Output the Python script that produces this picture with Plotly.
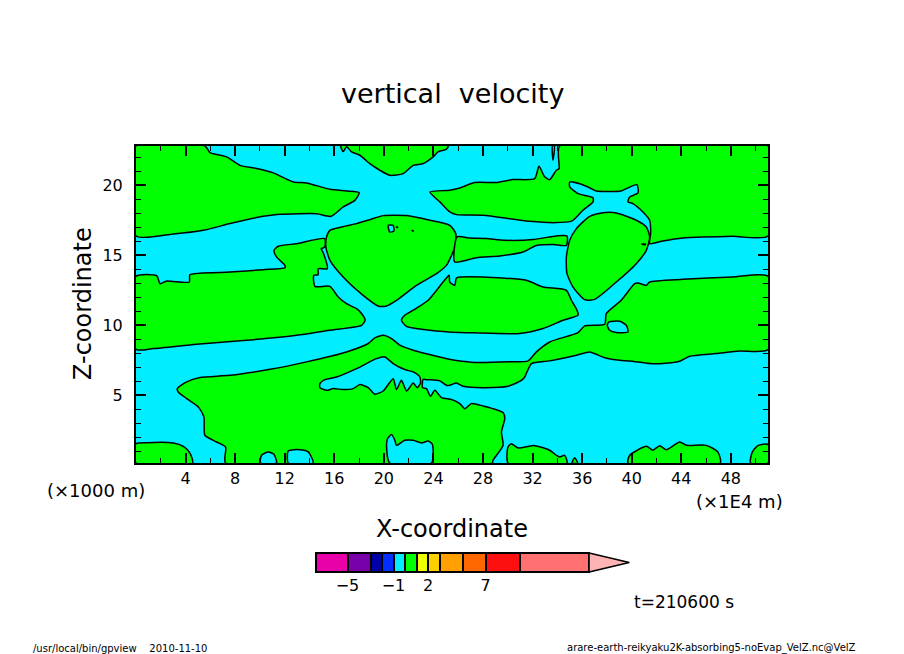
import plotly.graph_objects as graph_objects

W = 904
H = 654

x_range = [0, 51]
z_range = [0.17, 22.8]
x_ticks = [4, 8, 12, 16, 20, 24, 28, 32, 36, 40, 44, 48]
z_ticks = [5, 10, 15, 20]

# contour outlines, (x in 1E4 m, z in 1000 m)
top_left = [(0,22.8),(0,16.38),(3.01,16.52),(5.43,16.78),(7.58,17.26),(9.73,17.69),(11.61,17.92),(14.57,17.97),
    (15.73,17.78),(16.72,18.45),(17.66,18.92),(18.01,19.47),(16.99,19.59),(15.65,19.71),(13.76,20.16),(12.69,20.23),
    (11.08,20.88),(9.73,21.19),(8.39,21.42),(7.31,22.02),(5.97,22.33),(5.56,22.8)]
top_centre = [(16.53,22.8),(16.72,22.4),(17.0,22.75),(17.39,22.38),(18.06,22.14),(18.87,21.54),(19.68,21.07),(20.48,20.71),
    (21.56,20.83),(22.37,21.42),(23.17,21.54),(23.98,22.02),(24.38,22.38),(25.05,22.57),(25.19,22.8)]
top_right = [(34.19,22.8),(51,22.8),(51,16.38),(48.17,16.35),(45.75,16.3),(44.14,16.23),(42.52,16.02),(41.45,15.83),
    (41.53,16.54),(41.45,17.5),(40.91,18.09),(40.1,18.69),(39.7,18.81),(39.84,19.16),(40.51,19.45),(40.43,20.04),
    (39.57,19.76),(39.16,19.59),(37.15,19.59),(36.74,19.76),(35.94,20.07),(35.0,20.23),(35.0,19.88),(35.67,19.4),
    (36.88,19.11),(36.88,18.81),(36.07,18.21),(35.27,17.5),(35.08,17.42),(33.92,17.33),(31.77,17.42),(30.16,17.61),
    (28.01,17.85),(25.86,17.9),(25.32,18.09),(24.52,18.81),(23.71,19.52),(25.32,19.64),(26.13,19.8),(27.34,20.19),
    (29.08,20.19),(30.43,20.4),(32.17,20.47),(32.52,21.35),(32.98,20.6),(33.38,20.4),(33.92,21.07),(34.14,21.19)]
sliver = [(33.6,22.8),(33.65,21.78),(33.76,22.8)]
heart = [(15.65,16.78),(15.38,16.31),(15.32,15.59),(15.65,14.64),(16.72,13.45),(18.33,12.14),(19.54,11.38),(20.22,11.38),
    (21.02,11.78),(22.63,12.85),(24.25,13.69),(25.05,14.28),(25.73,15.59),(25.81,16.54),(25.32,17.14),(23.71,17.5),
    (21.83,17.83),(19.95,17.83),(18.87,17.54),(17.8,17.26)]
bubble = [(34.73,14.88),(34.78,13.69),(35.27,12.73),(36.21,11.83),(37.01,11.85),(38.76,13.09),(40.37,14.4),(41.18,15.35),
    (41.45,16.31),(41.18,17.02),(40.37,17.5),(38.76,18.02),(37.69,18.04),(36.61,17.78),(35.54,16.9),(35.0,16.07)]
strip = [(25.91,16.31),(26.93,16.23),(28.28,16.19),(29.76,16.07),(32.04,16.12),(33.92,16.38),(34.78,16.38),(34.73,15.71),
    (33.65,15.76),(32.31,15.69),(31.23,15.23),(29.35,14.95),(27.47,14.83),(25.72,14.52)]
middle_left = [(0,13.5),(1.67,13.54),(1.94,12.97),(2.47,13.16),(4.3,13.09),(4.35,13.61),(7.58,13.8),(10.27,13.97),
    (12.02,14.11),(12.02,14.28),(11.34,14.88),(11.13,15.35),(11.48,15.64),(12.96,15.83),(15.22,16.19),(15.24,15.59),
    (14.95,15.47),(15.1,15.2),(15.43,14.04),(14.7,14.04),(14.7,13.61),(14.35,13.57),(14.44,12.78),(15.65,12.78),
    (16.32,12.02),(16.99,11.54),(17.8,11.19),(18.2,10.84),(18.49,10.36),(18.2,10.0),(15.65,9.65),(12.96,9.29),
    (8.92,8.93),(4.89,8.65),(1.4,8.34),(0,8.29)]
middle_centre = [(21.42,10.36),(21.69,10.72),(22.37,11.08),(23.58,11.79),(24.78,13.09),(25.27,13.57),(25.32,13.09),(25.73,12.85),
    (25.86,13.38),(28.01,13.45),(31.5,13.21),(32.85,12.73),(34.73,12.5),(35.13,11.79),(35.59,11.07),(35.67,10.72),
    (34.46,10.36),(32.85,9.77),(30.97,9.41),(27.2,9.46),(26.13,9.48),(23.71,9.65),(21.83,9.93)]
lower_main = [(3.33,5.48),(4.09,5.96),(5.16,6.27),(7.58,6.43),(10.81,6.86),(13.76,7.39),(16.99,8.1),(18.74,8.7),
    (19.27,9.1),(19.95,9.29),(20.62,9.05),(21.29,8.58),(22.37,8.22),(24.25,7.79),(25.73,7.5),(26.13,7.46),
    (27.47,7.34),(30.16,7.39),(31.64,7.46),(32.31,8.1),(33.38,8.81),(35.67,9.48),(36.21,9.96),(37.82,10.08),
    (37.95,10.84),(39.16,11.79),(40.24,12.97),(40.51,13.02),(41.18,12.85),(41.45,13.09),(44.14,13.28),(48.17,13.45),
    (51,13.5),(51,8.27),(48.71,8.17),(46.81,7.98),(44.68,7.79),(43.87,7.43),(42.52,7.27),(41.45,7.27),
    (39.84,7.46),(39.03,7.5),(37.82,7.69),(36.61,8.1),(35.54,7.86),(33.38,7.46),(31.91,7.27),(31.37,6.31),
    (31.1,6.07),(30.02,5.65),(28.01,5.55),(26.4,5.65),(25.86,5.88),(25.32,5.72),(25.05,5.72),(24.52,6.03),
    (23.44,6.12),(23.17,6.15),(23.12,5.55),(23.44,5.48),(23.76,4.93),(24.11,5.36),(24.65,4.84),(25.46,4.7),
    (26.13,4.41),(26.53,4.05),(27.07,4.41),(28.01,4.24),(29.62,3.77),(29.76,3.34),(29.49,2.39),(29.62,1.43),
    (28.81,0.36),(28.76,0.17),(7.23,0.17),(7.23,1.31),(6.51,1.67),(5.56,2.15),(5.48,3.46),(5.03,4.17),
    (4.09,4.77),(3.41,5.24)]
bottom_a = [(0,0.17),(0,1.55),(0.86,1.62),(3.01,1.6),(3.82,1.36),(4.35,0.88),(4.57,0.17)]
bottom_b = [(30.02,0.17),(30.02,1.31),(30.29,1.55),(30.83,1.24),(32.17,1.41),(33.38,1.08),(33.92,0.72),(34.19,0.6),(34.59,0.72),(34.78,0.17)]
bottom_c = [(35.19,0.17),(35.4,0.55),(35.64,0.17)]
bottom_d = [(39.7,0.17),(39.84,0.72),(41.18,1.36),(41.72,1.08),(42.26,1.41),(42.79,1.12),(43.87,1.67),(44.41,1.43),(46.02,1.43),(46.96,0.95),(47.15,0.17)]
bottom_e = [(49.59,0.17),(49.73,0.95),(50.19,1.41),(51,1.5),(51,0.17)]

hole_heart = [(20.35,17.14),(20.75,17.14),(20.81,16.73),(20.48,16.66)]
hole_wedge = [(14.84,5.84),(14.84,5.55),(15.38,5.36),(15.91,5.48),(16.72,5.41),(17.53,5.48),(18.06,5.77),(18.74,5.55),
    (19.27,5.08),(19.95,5.31),(20.75,6.19),(21.02,5.41),(21.42,6.07),(21.83,5.31),(22.37,5.88),(22.69,5.55),
    (22.96,5.88),(22.9,6.31),(22.37,6.67),(21.69,6.84),(20.75,7.27),(20.08,7.74),(19.41,7.62),(17.8,6.91),
    (16.18,6.31),(15.24,6.12)]
hole_floor_a = [(20.48,0.17),(20.22,1.31),(20.3,1.91),(20.62,2.2),(20.89,1.79),(21.02,1.43),(21.69,1.79),(22.37,1.79),
    (23.04,1.6),(23.58,1.74),(23.92,1.5),(23.98,0.72),(23.84,0.17)]
hole_floor_b = [(10.05,0.17),(10.13,0.72),(10.67,0.96),(11.13,0.79),(11.34,0.17)]
hole_floor_c = [(12.29,0.17),(12.29,1.03),(13.23,1.12),(13.9,0.96),(14.3,0.17)]
hole_right = [(38.03,10.0),(38.17,10.24),(39.03,10.29),(39.57,10.0),(39.7,9.53),(38.76,9.48),(38.22,9.65)]
dot_a = [(21.0,17.02),(21.1,17.02),(21.1,16.97)]
dot_b = [(22.25,16.77),(22.37,16.77),(22.37,16.73)]
dot_c = [(40.8,15.8),(41.1,15.8),(41.1,15.75)]

green_areas = [top_left, top_centre, top_right, heart, bubble, strip, middle_left, middle_centre,
    lower_main, bottom_a, bottom_b, bottom_c, bottom_d, bottom_e]
cyan_areas = [sliver, hole_heart, hole_wedge, hole_floor_a, hole_floor_b, hole_floor_c, hole_right, dot_a, dot_b, dot_c]

cbar_levels = [-7.75, -5, -3, -2, -1, 0, 1, 2, 3, 5, 7, 10, 16]
cbar_colors = ["#E800A8", "#7800A8", "#0000A8", "#0030FF", "#00EEFF", "#00FF00", "#F0FF00",
    "#FFD000", "#FFA000", "#FF6800", "#FF1010", "#FF7070"]
cbar_labels = [-5, -1, 2, 7]
cbar_tip = 19.5

CYAN = "#00EEFF"
GREEN = "#00FF00"
PINK = "#FFB4B4"
FONT = "DejaVu Sans"


def px(x):
    return x / W


def py(y):
    return 1 - y / H


fig = graph_objects.Figure()

fig.add_trace(graph_objects.Scatter(x=[x_range[0], x_range[1], x_range[1], x_range[0]],
    y=[z_range[0], z_range[0], z_range[1], z_range[1]], mode="lines", fill="toself",
    fillcolor=CYAN, line=dict(width=0), hoverinfo="skip"))


def add_area(points, color):
    fig.add_trace(graph_objects.Scatter(x=[p[0] for p in points] + [points[0][0]],
        y=[p[1] for p in points] + [points[0][1]], mode="lines", fill="toself", fillcolor=color,
        line=dict(color="black", width=1.5, shape="spline", smoothing=0.6), hoverinfo="skip"))


for area in green_areas:
    add_area(area, GREEN)
for area in cyan_areas:
    add_area(area, CYAN)

# colour bar
fig.add_trace(graph_objects.Bar(y=[0] * len(cbar_colors), base=cbar_levels[:-1],
    x=[b - a for a, b in zip(cbar_levels[:-1], cbar_levels[1:])], orientation="h", width=1,
    marker=dict(color=cbar_colors, line=dict(color="black", width=2)),
    xaxis="x2", yaxis="y2", hoverinfo="skip"))
fig.add_trace(graph_objects.Scatter(x=[cbar_levels[-1], cbar_levels[-1], cbar_tip, cbar_levels[-1]],
    y=[0.5, -0.5, 0, 0.5], mode="lines", fill="toself", fillcolor=PINK,
    line=dict(color="black", width=1.5), xaxis="x2", yaxis="y2", hoverinfo="skip"))

fig.update_layout(
    width=W, height=H, showlegend=False, paper_bgcolor="white", plot_bgcolor="white",
    margin=dict(l=0, r=0, t=0, b=0), bargap=0,
    font=dict(family=FONT, color="black"),
    xaxis=dict(domain=[px(136), px(768)], range=x_range, tickvals=x_ticks, ticks="inside", ticklen=10,
        tickwidth=2, tickcolor="black", showline=True, linecolor="black", linewidth=2, mirror="ticks",
        showgrid=False, zeroline=False, tickfont=dict(size=16), ticklabelstandoff=0,
        minor=dict(dtick=2, tick0=0, ticks="inside", ticklen=5, tickwidth=1, tickcolor="black", showgrid=False)),
    yaxis=dict(domain=[py(463), py(146)], range=z_range, tickvals=z_ticks, ticks="inside", ticklen=10,
        tickwidth=2, tickcolor="black", showline=True, linecolor="black", linewidth=2, mirror="ticks",
        showgrid=False, zeroline=False, tickfont=dict(size=16), ticklabelstandoff=8,
        minor=dict(dtick=1, tick0=0, ticks="inside", ticklen=5, tickwidth=1, tickcolor="black", showgrid=False)),
    xaxis2=dict(domain=[px(300), px(640)], range=[-9.13, 20.43], anchor="y2", tickvals=cbar_labels, ticks="",
        showgrid=False, zeroline=False, showline=False, tickfont=dict(size=16), ticklabelstandoff=1),
    yaxis2=dict(domain=[py(573), py(552)], range=[-0.55, 0.55], anchor="x2", showticklabels=False, ticks="",
        showgrid=False, zeroline=False, showline=False),
)


def add_text(text, x, y, size, anchor="center", angle=0):
    fig.add_annotation(text=text, x=px(x), y=py(y), xref="paper", yref="paper", showarrow=False,
        xanchor=anchor, yanchor="middle", textangle=angle, font=dict(size=size, family=FONT, color="black"))


add_text("vertical  velocity", 452, 93, 27)
add_text("Z-coordinate", 83, 304, 24, angle=-90)
add_text("X-coordinate", 452, 529, 24)
add_text("(×1000 m)", 45, 490, 18, anchor="left")
add_text("(×1E4 m)", 694, 501, 18, anchor="left")
add_text("t=210600 s", 632, 602, 17, anchor="left")
add_text("/usr/local/bin/gpview    2010-11-10", 31, 648, 10, anchor="left")
add_text("arare-earth-reikyaku2K-absorbing5-noEvap_VelZ.nc@VelZ", 565, 648, 10, anchor="left")

fig.write_html("out.html", config=dict(displayModeBar=False),
    post_script="document.body.style.margin='0';")
